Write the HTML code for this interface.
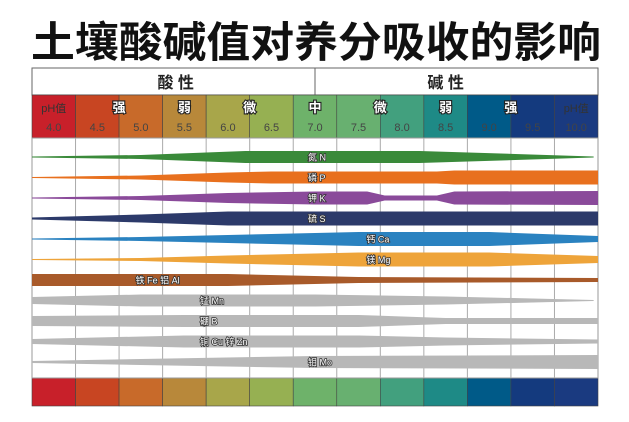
<!DOCTYPE html>
<html><head><meta charset="utf-8">
<style>
body{margin:0;background:#fff;width:629px;height:417px;overflow:hidden;font-family:"Liberation Sans","Noto Sans CJK SC",sans-serif;}
</style></head>
<body>
<svg id="chart" width="629" height="417" xmlns="http://www.w3.org/2000/svg" font-family="Liberation Sans, Noto Sans CJK SC, sans-serif">
<text x="316" y="57" text-anchor="middle" font-size="42" font-weight="bold" fill="#111" font-family="Noto Sans CJK SC, sans-serif" textLength="570" lengthAdjust="spacingAndGlyphs">土壤酸碱值对养分吸收的影响</text>
<g id="g"></g>
</svg>
<script>
const phLabels=["4.0","4.5","5.0","5.5","6.0","6.5","7.0","7.5","8.0","8.5","9.0","9.5","10.0"];
const cellColors=["#c8202a","#c84522","#c86a2a","#b8883a","#a8a64a","#96b052","#6eb26a","#68b070","#42a07e","#1e8a86","#005a88","#143a7e","#1a3a80"];
const nutrientNames=["氮 N","磷 P","钾 K","硫 S","钙 Ca","镁 Mg","铁 Fe 铝 Al","锰 Mn","硼 B","铜 Cu 锌 Zn","钼 Mo"];
const nutrientColors=["#3a8a3a","#e8701e","#8a4a9a","#2c3a6a","#2a82c0","#eea43a","#a85a2a","#b8b8b8","#b8b8b8","#b8b8b8","#b8b8b8"];
const labelPh=[6.92,6.92,6.92,6.92,7.59,7.59,4.94,5.68,5.68,5.68,6.92];
const nPh=[3.75,5.0,6.2,8.2,9.3,10.2];           const nW=[1,4,12,12,6,1];
const pPh=[3.75,5.0,6.0,6.5,8.4,8.6,10.25];      const pW=[1,4,10,12,12,14,14];
const kPh=[3.75,5.0,6.0,7.0,7.6,7.8,8.4,8.6,10.25]; const kW=[1,4,10,13,13,5,5,13,14];
const sPh=[3.75,5.0,6.0,10.25];                  const sW=[2,8,14,14];
const caPh=[3.75,5.0,6.5,7.5,9.0,10.25];         const caW=[1,4,10,14,14,6];
const mgPh=[3.75,5.0,6.0,7.5,9.0,10.25];         const mgW=[1,3,8,14,14,7];
const fePh=[3.75,6.0,7.5,10.25];                 const feW=[12,12,6,4];
const mnPh=[3.75,5.0,7.0,8.5,9.5,10.2];          const mnW=[7,12,12,8,4,1];
const bPh=[3.75,5.5,7.5,8.5,10.25];              const bW=[10,12,12,6,6];
const cuPh=[3.75,5.5,7.5,8.5,10.25];             const cuW=[5,12,12,8,4];
const moPh=[3.75,5.0,7.0,10.25];                 const moW=[2,6,12,14];
const bandPh=[nPh,pPh,kPh,sPh,caPh,mgPh,fePh,mnPh,bPh,cuPh,moPh];
const bandW=[nW,pW,kW,sW,caW,mgW,feW,mnW,bW,cuW,moW];

const L=32,R=598,CW=(R-L)/13;
const x=ph=>L+(ph-3.75)/0.5*CW;
const rowY=i=>157+i*20.5;
const NS="http://www.w3.org/2000/svg";
const g=document.getElementById('g');
function mk(t,a,txt){const e=document.createElementNS(NS,t);for(const k in a)e.setAttribute(k,a[k]);if(txt!=null)e.textContent=txt;g.appendChild(e);return e;}

let e=mk('rect',{x:L,y:68,width:R-L,height:27,fill:'#fff',stroke:'#666','stroke-width':1});

e=mk('line',{x1:x(7.0),y1:68,x2:x(7.0),y2:95,stroke:'#666'});

e=mk('text',{x:x(5.4),y:88,'text-anchor':'middle','font-size':16,'font-weight':'bold',fill:'#222'},'酸 性');

e=mk('text',{x:x(8.5),y:88,'text-anchor':'middle','font-size':16,'font-weight':'bold',fill:'#222'},'碱 性');


phLabels.forEach((lab,i)=>{
  const cx=L+i*CW;
  let r=mk('rect',{x:cx,y:95,width:CW,height:43,fill:cellColors[i],stroke:'#444','stroke-width':0.6});
  
  let t=mk('text',{x:cx+CW/2,y:131,'text-anchor':'middle','font-size':11,fill:'#444'},lab);
  
  let b=mk('rect',{x:cx,y:378,width:CW,height:28,fill:cellColors[i],stroke:'#444','stroke-width':0.6});
  
});
const strength=[["pH值",4.25],["强",4.75],["弱",5.75],["微",6.25],["中",7.25],["微",7.75],["弱",8.75],["强",9.25],["pH值",10.25]];
strength.forEach(([s,p])=>{
  const pale=s==="pH值";
  let t=mk('text',{x:x(p)-(pale?0:0)-(pale?CW/2:0)+(s==="弱"||s==="中"?-CW/2:0),y:112,'text-anchor':'middle','font-size':pale?11:13,'font-weight':pale?'normal':'bold',fill:pale?'#333':'#fff',stroke:pale?'none':'#222','stroke-width':pale?0:2.2,'paint-order':'stroke'},s);
  
});
e=mk('rect',{x:L,y:138,width:R-L,height:240,fill:'#fff',stroke:'#999','stroke-width':1});

for(let i=1;i<13;i++){
  let l=mk('line',{x1:L+i*CW,y1:138,x2:L+i*CW,y2:378,stroke:'#aaa','stroke-width':1});
  
}
bandPh.forEach((ph,i)=>{
  const w=bandW[i],y=rowY(i);
  const top=ph.map((p,j)=>x(p)+','+(y-w[j]/2));
  const bot=ph.map((p,j)=>x(p)+','+(y+w[j]/2)).reverse();
  let p=mk('polygon',{points:top.concat(bot).join(' '),fill:nutrientColors[i]});
  
  let t=mk('text',{x:x(labelPh[i]),y:y+3.5,'font-size':9,fill:'#fff',stroke:'#333','stroke-width':1.6,'paint-order':'stroke'},nutrientNames[i]);
  
});
</script>
</body></html>
